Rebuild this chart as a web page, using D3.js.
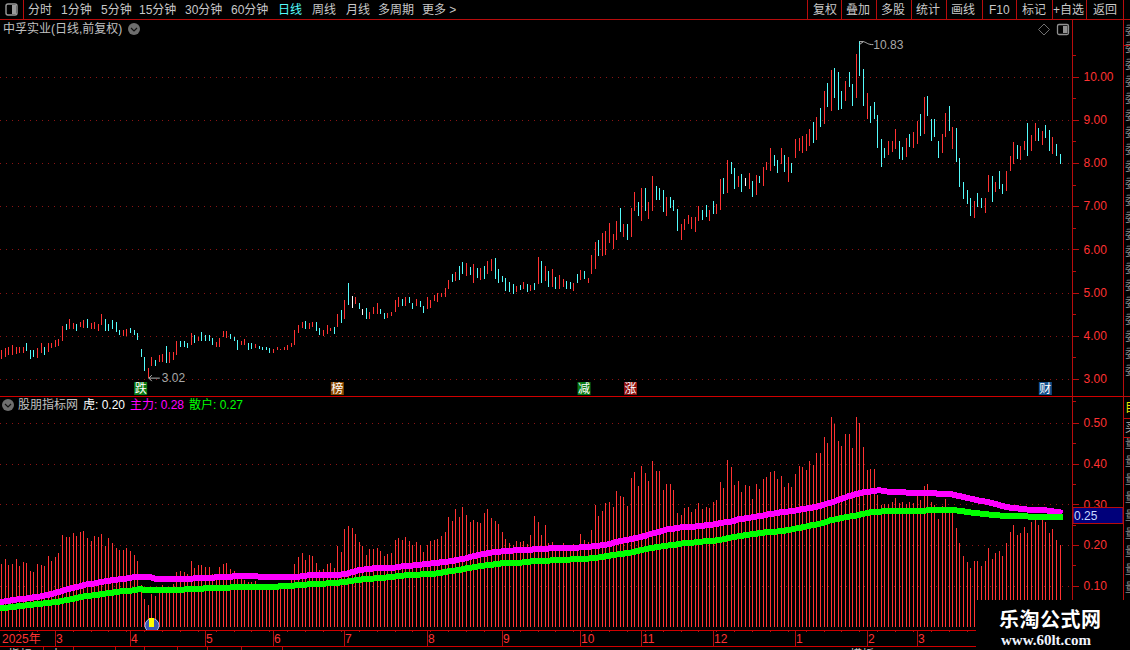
<!DOCTYPE html>
<html>
<head>
<meta charset="utf-8">
<title>中孚实业</title>
<script src="https://cdnjs.cloudflare.com/ajax/libs/d3/7.8.5/d3.min.js"></script>
<style>
  html, body { margin: 0; padding: 0; background: #000; overflow: hidden; }
  svg { display: block; }
  text { font-family: "Liberation Sans", "Noto Sans CJK SC", sans-serif; font-size: 12px; }
</style>
</head>
<body>
<script>
// daily high / low, one per trading day
var priceHigh = [
  3.67,3.71,3.75,3.79,3.73,3.73,3.75,3.84,3.67,3.67,
  3.71,3.84,3.75,3.83,3.84,3.90,3.92,4.23,4.27,4.39,
  4.29,4.27,4.33,4.37,4.39,4.29,4.31,4.27,4.50,4.39,
  4.27,4.37,4.33,4.13,4.13,4.15,4.17,4.13,4.06,3.70,
  3.52,3.25,3.52,3.44,3.56,3.58,3.76,3.63,3.63,3.87,
  3.87,3.88,3.84,4.06,4.02,3.98,4.08,4.02,4.02,3.94,
  3.85,3.96,4.11,4.10,4.03,3.98,3.90,3.87,3.93,3.84,
  3.83,3.81,3.76,3.75,3.75,3.71,3.69,3.73,3.70,3.73,
  3.79,3.84,4.13,4.25,4.31,4.34,4.30,4.32,4.32,4.18,
  4.13,4.25,4.19,4.20,4.51,4.60,4.83,5.22,4.92,4.89,
  4.75,4.61,4.64,4.55,4.67,4.75,4.62,4.53,4.53,4.55,
  4.83,4.89,4.85,4.89,4.89,4.75,4.85,4.81,4.69,4.89,
  4.83,4.94,4.98,5.00,5.10,5.29,5.42,5.48,5.62,5.70,
  5.68,5.60,5.66,5.58,5.56,5.62,5.72,5.78,5.80,5.55,
  5.38,5.34,5.25,5.20,5.16,5.18,5.25,5.20,5.17,5.22,
  5.82,5.72,5.62,5.50,5.55,5.35,5.40,5.32,5.27,5.24,
  5.22,5.42,5.52,5.50,5.34,5.87,6.17,6.22,6.38,6.43,
  6.61,6.36,6.66,6.96,6.59,6.59,6.96,7.33,7.10,7.42,
  7.42,7.10,7.70,7.47,7.42,7.37,7.21,7.21,7.14,6.93,
  6.59,6.70,6.80,6.75,6.75,7.00,6.91,7.03,6.91,7.12,
  7.05,7.63,7.65,8.07,8.02,7.88,7.70,7.75,7.65,7.77,
  7.58,7.72,7.70,7.91,8.02,8.35,8.19,8.07,8.35,8.19,
  8.14,8.00,8.56,8.58,8.62,8.67,8.79,8.95,9.06,9.27,
  9.67,9.85,10.15,10.20,10.11,9.67,9.90,10.11,9.83,10.52,
  10.83,10.18,9.62,9.32,9.41,9.11,8.56,8.35,8.51,8.51,
  8.79,8.51,8.37,8.58,8.67,8.72,8.97,9.13,9.53,9.55,
  9.02,9.02,8.51,8.67,9.16,9.32,8.83,8.81,8.11,7.56,
  7.37,7.19,7.12,7.30,7.19,7.19,7.72,7.70,7.56,7.81,
  7.51,7.81,8.16,8.49,8.42,8.39,8.51,8.93,8.65,8.93,
  8.81,8.74,8.88,8.76,8.60,8.44,8.21
];
var priceLow = [
  3.46,3.52,3.56,3.56,3.58,3.60,3.60,3.65,3.46,3.50,
  3.48,3.60,3.56,3.63,3.71,3.75,3.76,3.89,4.13,4.16,
  4.15,4.12,4.20,4.17,4.17,4.15,4.15,4.12,4.25,4.11,
  4.10,4.15,4.08,4.02,4.00,4.00,4.06,4.02,3.90,3.52,
  3.19,3.02,3.30,3.31,3.39,3.40,3.36,3.36,3.44,3.56,
  3.73,3.75,3.71,3.79,3.83,3.87,3.89,3.89,3.89,3.79,
  3.75,3.75,3.98,3.96,3.92,3.89,3.67,3.79,3.79,3.67,
  3.69,3.71,3.69,3.67,3.67,3.61,3.61,3.66,3.66,3.67,
  3.67,3.73,3.79,4.06,4.17,4.15,4.15,4.21,4.11,4.02,
  4.00,4.04,4.11,4.04,4.20,4.29,4.39,4.71,4.64,4.74,
  4.61,4.48,4.39,4.39,4.50,4.50,4.50,4.39,4.41,4.46,
  4.55,4.67,4.69,4.69,4.75,4.62,4.69,4.67,4.53,4.62,
  4.64,4.80,4.78,4.89,4.89,5.08,5.25,5.26,5.30,5.42,
  5.38,5.40,5.23,5.33,5.30,5.32,5.42,5.50,5.32,5.22,
  5.25,5.04,5.02,4.97,5.01,5.06,5.08,5.01,5.04,5.06,
  5.20,5.23,5.27,5.14,5.14,5.08,5.08,5.12,5.08,5.08,
  5.04,5.21,5.29,5.31,5.22,5.43,5.55,5.85,5.85,5.87,
  6.15,6.01,6.22,6.40,6.29,6.22,6.29,6.89,6.77,6.66,
  6.89,6.70,6.89,7.14,7.14,6.87,6.77,6.96,6.89,6.43,
  6.22,6.45,6.59,6.47,6.40,6.66,6.68,6.75,6.66,6.82,
  6.82,6.91,7.28,7.31,7.75,7.40,7.44,7.33,7.47,7.40,
  7.21,7.26,7.54,7.47,7.84,7.81,7.93,7.77,7.98,7.79,
  7.56,7.77,8.12,8.28,8.23,8.28,8.39,8.46,8.53,8.83,
  8.90,9.30,9.20,9.50,9.23,9.25,9.43,9.76,9.32,9.50,
  10.01,9.32,9.02,8.93,9.02,8.35,7.91,8.12,8.19,8.25,
  8.32,8.09,8.07,8.14,8.37,8.35,8.44,8.62,8.67,9.09,
  8.51,8.60,8.12,8.23,8.60,8.74,8.32,8.02,7.44,7.17,
  7.05,6.77,6.73,6.98,6.96,6.84,7.33,7.10,7.33,7.40,
  7.28,7.35,7.81,7.98,8.09,8.07,8.30,8.16,8.28,8.51,
  8.51,8.42,8.58,8.28,8.21,8.16,7.98
];
// r = up day, c = down day, w = flat day
var priceDir = (
  "rrrrrrrccc" + "rrcrrrrrcr" + "rcrrcrrrrc" + "ccccrrcccc" + "crrcrrcrrr" +
  "cccrcrcccc" + "rrrrcccrrc" + "crccccrrrr" + "rrrrrcrrcc" + "rrrcrcrcwr" +
  "cwcrrrccrr" + "rrcrccrccr" + "rrrrrrcrcc" + "rcrcrcrrcc" + "ccccrcrcrc" +
  "rcrcrcrrcc" + "rcrcrrrcrr" + "rrrcrcrrcr" + "crrcccrccc" + "rrrrrrccrc" +
  "rrcrccrcwr" + "crcrrrccrc" + "rcrrrrrcrc" + "rcrcccrccr" + "ccrcccccrr" +
  "rccrcrrcrc" + "cccrrcrccc" + "ccrccrrcrc" + "crrrcrrcrr" + "crccrcc"
).split("");

// 虎
var tigerValues = [
  .153,.165,.150,.153,.165,.148,.158,.155,.136,.133,
  .153,.150,.148,.173,.160,.170,.180,.224,.220,.220,
  .229,.222,.232,.234,.217,.210,.222,.220,.227,.197,
  .217,.205,.192,.187,.187,.192,.185,.175,.160,.101,
  .067,.052,.079,.074,.093,.101,.089,.089,.104,.133,
  .136,.133,.128,.160,.143,.150,.150,.146,.146,.128,
  .114,.146,.153,.155,.141,.136,.126,.116,.114,.109,
  .109,.111,.101,.101,.097,.097,.097,.097,.097,.097,
  .100,.118,.153,.170,.180,.163,.175,.173,.156,.138,
  .141,.153,.156,.143,.197,.183,.239,.247,.242,.227,
  .207,.197,.175,.190,.190,.192,.185,.173,.178,.180,
  .212,.217,.212,.220,.210,.200,.207,.200,.183,.200,
  .210,.212,.215,.222,.232,.269,.259,.288,.269,.293,
  .274,.256,.261,.256,.254,.279,.288,.266,.259,.252,
  .232,.215,.205,.200,.210,.207,.210,.202,.224,.271,
  .256,.224,.249,.205,.207,.197,.200,.205,.187,.197,
  .202,.200,.227,.212,.207,.237,.298,.271,.284,.303,
  .306,.293,.333,.320,.318,.296,.365,.380,.345,.394,
  .377,.357,.407,.382,.382,.335,.350,.350,.335,.279,
  .274,.291,.293,.281,.288,.303,.288,.293,.291,.306,
  .311,.355,.340,.409,.392,.348,.357,.330,.348,.345,
  .313,.350,.338,.362,.367,.380,.382,.362,.370,.343,
  .353,.343,.375,.394,.392,.385,.407,.397,.426,.426,
  .466,.451,.515,.498,.456,.444,.473,.473,.439,.515,
  .500,.441,.385,.387,.387,.323,.298,.301,.301,.306,
  .316,.302,.306,.301,.306,.303,.320,.311,.345,.350,
  .306,.298,.264,.296,.313,.291,.281,.242,.205,.173,
  .158,.143,.160,.160,.148,.160,.192,.165,.180,.185,
  .173,.205,.232,.249,.224,.229,.244,.229,.256,.274,
  .249,.264,.256,.229,.239,.212,.200
];
// 主力
var mainForce = [
  .059,.061,.062,.064,.065,.066,.067,.068,.069,.071,
  .072,.073,.075,.077,.079,.081,.084,.086,.089,.092,
  .094,.096,.098,.101,.103,.104,.105,.107,.109,.110,
  .111,.113,.114,.115,.116,.117,.119,.120,.120,.120,
  .120,.120,.120,.117,.117,.117,.115,.115,.115,.115,
  .115,.115,.115,.116,.118,.118,.118,.118,.119,.119,
  .120,.120,.120,.120,.120,.123,.123,.123,.123,.123,
  .123,.123,.122,.121,.120,.120,.120,.120,.120,.120,
  .120,.120,.120,.121,.123,.124,.125,.125,.125,.125,
  .125,.125,.125,.125,.126,.127,.128,.130,.133,.135,
  .138,.139,.140,.141,.142,.142,.142,.143,.143,.143,
  .144,.146,.147,.148,.148,.149,.150,.151,.152,.153,
  .154,.155,.156,.157,.158,.159,.160,.162,.164,.165,
  .167,.170,.172,.174,.176,.178,.179,.181,.182,.183,
  .184,.184,.185,.186,.187,.187,.187,.188,.188,.189,
  .189,.190,.190,.191,.192,.192,.192,.192,.192,.192,
  .193,.193,.194,.194,.195,.196,.197,.198,.199,.200,
  .202,.204,.207,.209,.211,.212,.214,.216,.218,.220,
  .222,.225,.228,.230,.232,.235,.238,.239,.240,.241,
  .243,.244,.244,.245,.245,.246,.247,.248,.249,.250,
  .252,.253,.255,.256,.257,.259,.263,.264,.265,.266,
  .268,.269,.271,.272,.274,.276,.277,.279,.280,.281,
  .282,.283,.284,.286,.288,.289,.291,.292,.294,.296,
  .299,.302,.304,.307,.310,.313,.316,.320,.322,.325,
  .327,.329,.330,.331,.333,.334,.334,.332,.331,.330,
  .330,.329,.329,.329,.328,.328,.328,.328,.327,.327,
  .327,.327,.326,.326,.325,.325,.324,.322,.320,.318,
  .316,.314,.312,.310,.308,.307,.305,.303,.301,.298,
  .295,.294,.292,.291,.290,.289,.288,.287,.287,.286,
  .286,.285,.285,.284,.283,.281,.280
];
// 散户
var retail = [
  .044,.045,.046,.047,.048,.049,.050,.051,.052,.053,
  .054,.055,.056,.057,.058,.059,.060,.062,.064,.065,
  .067,.069,.071,.073,.074,.075,.076,.077,.079,.080,
  .081,.082,.084,.085,.086,.087,.087,.088,.090,.092,
  .089,.088,.088,.088,.088,.088,.088,.088,.088,.089,
  .090,.090,.091,.092,.092,.092,.092,.093,.093,.094,
  .094,.094,.095,.095,.095,.096,.096,.096,.096,.096,
  .097,.097,.097,.097,.097,.097,.097,.097,.098,.098,
  .100,.100,.100,.101,.102,.102,.103,.103,.103,.104,
  .104,.105,.105,.105,.106,.108,.109,.110,.111,.113,
  .114,.115,.115,.116,.117,.118,.118,.119,.120,.121,
  .122,.123,.124,.125,.125,.126,.127,.127,.128,.128,
  .129,.129,.130,.131,.133,.135,.136,.137,.138,.140,
  .142,.143,.145,.146,.148,.149,.150,.151,.152,.153,
  .155,.155,.155,.155,.155,.156,.157,.158,.159,.160,
  .160,.160,.161,.161,.162,.162,.163,.163,.164,.164,
  .165,.165,.165,.165,.166,.167,.168,.169,.170,.172,
  .173,.175,.176,.177,.178,.180,.181,.183,.185,.187,
  .189,.191,.192,.194,.195,.197,.198,.199,.200,.201,
  .203,.204,.205,.205,.206,.207,.208,.209,.209,.210,
  .211,.212,.214,.216,.218,.219,.221,.222,.224,.225,
  .226,.227,.229,.230,.231,.232,.232,.233,.234,.235,
  .236,.238,.240,.241,.243,.245,.247,.249,.250,.252,
  .254,.257,.261,.262,.264,.266,.268,.269,.271,.272,
  .274,.276,.278,.280,.281,.282,.282,.283,.283,.283,
  .283,.283,.283,.283,.283,.283,.283,.283,.284,.285,
  .285,.285,.285,.285,.285,.285,.285,.285,.284,.283,
  .281,.280,.279,.278,.277,.276,.275,.274,.274,.273,
  .271,.270,.270,.270,.270,.270,.270,.270,.269,.269,
  .269,.268,.268,.268,.268,.268,.268
];

var priceTicks = [3, 4, 5, 6, 7, 8, 9, 10];
var priceMinorTicks = [2.5, 3.5, 4.5, 5.5, 6.5, 7.5, 8.5, 9.5, 10.5];
var indicatorTicks = [0.1, 0.2, 0.3, 0.4, 0.5];
var indicatorMinorTicks = [0.15, 0.25, 0.35, 0.45];

// month starts: trading day index + label
var monthDays = [15, 36, 57, 76, 96, 119, 140, 162, 179, 199, 222, 242, 256];
var monthLabels = ["3", "4", "5", "6", "7", "8", "9", "10", "11", "12", "1", "2", "3"];

var leftTools = ["分时", "1分钟", "5分钟", "15分钟", "30分钟", "60分钟", "日线", "周线", "月线", "多周期", "更多 >"];
var leftToolX = [28, 61, 101, 139, 185, 231, 278, 312, 346, 378, 422];
var rightTools = ["复权", "叠加", "多股", "统计", "画线", "F10", "标记", "+自选", "返回"];
var rightToolX = [813, 846, 881, 916, 951, 989, 1022, 1053, 1093];
var rightToolSep = [807, 841, 876, 911, 946, 982, 1016, 1052, 1086, 1123];

var flagDays = [39, 94, 163, 176, 292];
var flagText = ["跌", "榜", "减", "涨", "财"];
var flagFill = ["#0a7a14", "#8a4a00", "#0a7a14", "#8c1010", "#14508c"];

var lowDay = 41, lowPrice = 3.02, highDay = 240, highPrice = 10.83;

var width = 1130, height = 650, axisX = 1072, sideX = 1123;
var RED = "#ff3232", CYAN = "#54fcfc", LINE = "#b80c0c", DOT = "#8c1414";

var svg = d3.select("body").append("svg").attr("width", width).attr("height", height)
  .style("background", "#000");

var days = d3.range(priceHigh.length);
var x = d3.scaleLinear().domain([0, days.length - 1]).range([1.2, 1059.6]);
var yPrice = d3.scaleLinear().domain([3, 10]).range([379, 76.5]);
var yInd = d3.scaleLinear().domain([0.1, 0.5]).range([585.5, 423]);

function px(i) { return Math.round(x(i)) + 0.5; }
function hline(sel, x1, x2, y, color) {
  return sel.append("line").attr("x1", x1).attr("x2", x2).attr("y1", y).attr("y2", y)
    .attr("stroke", color).attr("shape-rendering", "crispEdges");
}
function vline(sel, xx, y1, y2, color) {
  return sel.append("line").attr("x1", xx).attr("x2", xx).attr("y1", y1).attr("y2", y2)
    .attr("stroke", color).attr("shape-rendering", "crispEdges");
}
function label(sel, xx, yy, str, color, size) {
  return sel.append("text").attr("x", xx).attr("y", yy).attr("fill", color)
    .style("font-size", (size || 12) + "px").text(str);
}

// grid
var grid = svg.append("g");
priceTicks.forEach(function (t) {
  hline(grid, 0, axisX, Math.round(yPrice(t)) + 0.5, DOT).attr("stroke-dasharray", "1 5");
});
indicatorTicks.forEach(function (t) {
  hline(grid, 0, axisX, Math.round(yInd(t)) + 0.5, DOT).attr("stroke-dasharray", "1 5");
});

// price bars
var barColor = { r: RED, c: CYAN, w: "#ffffff" };
svg.append("g").selectAll("line").data(days).join("line")
  .attr("x1", px).attr("x2", px)
  .attr("y1", function (i) { return yPrice(priceHigh[i]); })
  .attr("y2", function (i) { return yPrice(priceLow[i]); })
  .attr("stroke", function (i) { return barColor[priceDir[i]]; })
  .attr("shape-rendering", "crispEdges");

// 虎 bars
svg.append("g").selectAll("line").data(days).join("line")
  .attr("x1", px).attr("x2", px)
  .attr("y1", function (i) { return yInd(tigerValues[i]); })
  .attr("y2", 627)
  .attr("stroke", RED)
  .attr("shape-rendering", "crispEdges");

// 主力 / 散户 lines
function indicatorLine(values, color) {
  var line = d3.line().x(function (i) { return x(i); }).y(function (i) { return yInd(values[i]); });
  svg.append("path").datum(days).attr("d", line)
    .attr("fill", "none").attr("stroke", color).attr("stroke-width", 6)
    .attr("stroke-linecap", "square").attr("shape-rendering", "crispEdges");
}
indicatorLine(mainForce, "#ff00ff");
indicatorLine(retail, "#00ff00");

// toolbar
var bar = svg.append("g");
hline(bar, 0, width, 19.5, LINE);
vline(bar, 23.5, 0, 19, LINE);
bar.append("rect").attr("x", 6).attr("y", 4).attr("width", 11).attr("height", 11).attr("rx", 2)
  .attr("fill", "none").attr("stroke", "#9a9a9a").attr("stroke-width", 1.4);
bar.append("rect").attr("x", 12).attr("y", 5).attr("width", 4).attr("height", 9).attr("fill", "#9a9a9a");
leftTools.forEach(function (t, i) {
  label(bar, leftToolX[i], 14, t, t === "日线" ? CYAN : "#c8c8c8");
});
rightTools.forEach(function (t, i) { label(bar, rightToolX[i], 14, t, "#c8c8c8"); });
rightToolSep.forEach(function (s) { vline(bar, s + 0.5, 0, 19, LINE); });

// title rows
function chevronDot(cx, cy) {
  svg.append("circle").attr("cx", cx).attr("cy", cy).attr("r", 6).attr("fill", "#6e6e6e");
  svg.append("path").attr("d", "M" + (cx - 3) + "," + (cy - 1) + "l3,3l3,-3")
    .attr("fill", "none").attr("stroke", "#111").attr("stroke-width", 1.2);
}
label(svg, 3, 33, "中孚实业(日线,前复权)", "#c0c0c0");
chevronDot(134, 29);
chevronDot(8, 405);
label(svg, 18, 409, "股朋指标网", "#c0c0c0");
label(svg, 83, 409, "虎: 0.20", "#ffffff");
label(svg, 130, 409, "主力: 0.28", "#ff00ff");
label(svg, 189, 409, "散户: 0.27", "#00ff00");

// top-right icons
svg.append("path").attr("d", "M1044,24l5.5,5.5l-5.5,5.5l-5.5,-5.5z").attr("fill", "none").attr("stroke", "#707070");
svg.append("rect").attr("x", 1057.5).attr("y", 24.5).attr("width", 11).attr("height", 10).attr("rx", 1.5)
  .attr("fill", "none").attr("stroke", "#909090").attr("stroke-width", 1.3);
svg.append("rect").attr("x", 1063).attr("y", 26).attr("width", 4.5).attr("height", 7).attr("fill", "#909090");

// high / low notes
var lowY = yPrice(lowPrice), highY = yPrice(highPrice);
svg.append("path").attr("d", "M" + (x(lowDay) + 12) + "," + lowY + "h-11m3,-3l-3,3l3,3")
  .attr("fill", "none").attr("stroke", "#b4b4b4");
label(svg, x(lowDay) + 14, lowY + 4, lowPrice.toFixed(2), "#a8a8a8");
svg.append("path").attr("d", "M" + x(highDay) + "," + (highY + 1) + "l4,0m-4,3l4,-3c4,1 4,3 10,3")
  .attr("fill", "none").attr("stroke", "#b4b4b4");
label(svg, x(highDay) + 14, highY + 8, highPrice.toFixed(2), "#a8a8a8");

// event flags
flagDays.forEach(function (d, i) {
  var cx = x(d);
  svg.append("rect").attr("x", cx - 6.5).attr("y", 382).attr("width", 13).attr("height", 13).attr("fill", flagFill[i]);
  label(svg, cx, 393, flagText[i], "#ffffff").attr("text-anchor", "middle");
});

// panel frame
hline(svg, 0, sideX, 396.5, "#d00000");
vline(svg, axisX + 0.5, 20, 630, LINE);
vline(svg, sideX + 0.5, 0, 600, LINE);

// right axes
function rightAxis(scale, ticks, minor) {
  var g = svg.append("g").attr("transform", "translate(" + (axisX + 0.5) + ",0)");
  g.call(d3.axisRight(scale).tickValues(ticks).tickFormat(d3.format(".2f")).tickSize(6).tickPadding(5));
  g.select(".domain").remove();
  g.selectAll("line").attr("stroke", LINE).attr("shape-rendering", "crispEdges");
  g.selectAll("text").attr("fill", RED).style("font-size", "12px");
  var m = svg.append("g").attr("transform", "translate(" + (axisX + 0.5) + ",0)");
  m.call(d3.axisRight(scale).tickValues(minor).tickFormat("").tickSize(3));
  m.select(".domain").remove();
  m.selectAll("line").attr("stroke", LINE).attr("shape-rendering", "crispEdges");
}
rightAxis(yPrice, priceTicks, priceMinorTicks);
rightAxis(yInd, indicatorTicks, indicatorMinorTicks);

// current-value tag
svg.append("rect").attr("x", axisX + 1).attr("y", 507.5).attr("width", sideX - axisX - 1).attr("height", 16)
  .attr("fill", "#00007a").attr("stroke", LINE);
label(svg, axisX + 2, 519.5, "0.25", "#c8d8ff");

// clipped side panel text
svg.append("defs").append("clipPath").attr("id", "side")
  .append("rect").attr("x", 1125).attr("y", 0).attr("width", 5).attr("height", 600);
var side = svg.append("g").attr("clip-path", "url(#side)");
d3.range(35, 385, 17).forEach(function (yy) { label(side, 1125, yy, "委", "#8a8a8a"); });
label(side, 1125, 412, "目", "#e8e800");
label(side, 1125, 432, "买", "#b0b0b0");
d3.range(448, 600, 18).forEach(function (yy) { label(side, 1125, yy, "量", "#8a8a8a"); });
hline(svg, sideX, width, 45.5, LINE);
hline(svg, sideX, width, 396.5, LINE);
hline(svg, sideX, width, 418.5, LINE);
hline(svg, sideX, width, 437.5, LINE);

// event glyph on the 虎 panel
svg.select("defs").append("clipPath").attr("id", "glyph")
  .append("rect").attr("x", 140).attr("y", 610).attr("width", 24).attr("height", 20);
svg.append("circle").attr("cx", 152).attr("cy", 625.5).attr("r", 7).attr("fill", "#3c5ab4")
  .attr("stroke", "#a8c0f0").attr("clip-path", "url(#glyph)");
svg.append("rect").attr("x", 149).attr("y", 618).attr("width", 5).attr("height", 9).attr("fill", "#ffff00");

// time axis
hline(svg, 0, 976, 630.5, "#d00000");
hline(svg, 0, 976, 646.5, "#d00000");
label(svg, 2, 643, "2025年", RED);
d3.range(5, days.length, 5).forEach(function (d) {
  if (x(d) < 976) vline(svg, px(d), 630, 632, LINE);
});
monthDays.forEach(function (d, i) {
  vline(svg, px(d), 630, 646, LINE);
  label(svg, px(d) + 0.5, 643, monthLabels[i], RED);
});

// clipped tab row
svg.select("defs").append("clipPath").attr("id", "tabs")
  .append("rect").attr("x", 0).attr("y", 647).attr("width", width).attr("height", 3);
var tabs = svg.append("g").attr("clip-path", "url(#tabs)");
[43, 73, 115, 144, 177, 207, 241, 282].forEach(function (s) { vline(tabs, s + 0.5, 647, 650, LINE); });
label(tabs, 8, 659, "指标", "#c8c8c8");
label(tabs, 50, 659, "十", "#c8c8c8");
label(tabs, 850, 659, "模板", "#c8c8c8");

// watermark
svg.append("rect").attr("x", 976).attr("y", 600).attr("width", 154).attr("height", 50).attr("fill", "#000");
svg.append("text").attr("x", 999).attr("y", 627).attr("fill", "#ffffff")
  .style("font-family", "'Noto Sans CJK SC'").style("font-weight", "700").style("font-size", "20px")
  .style("letter-spacing", "0.5px").text("乐淘公式网");
svg.append("text").attr("x", 1001).attr("y", 645).attr("fill", "#f0f4ff")
  .style("font-family", "'Liberation Serif'").style("font-weight", "700").style("font-size", "15px")
  .text("www.60lt.com");
</script>
</body>
</html>
